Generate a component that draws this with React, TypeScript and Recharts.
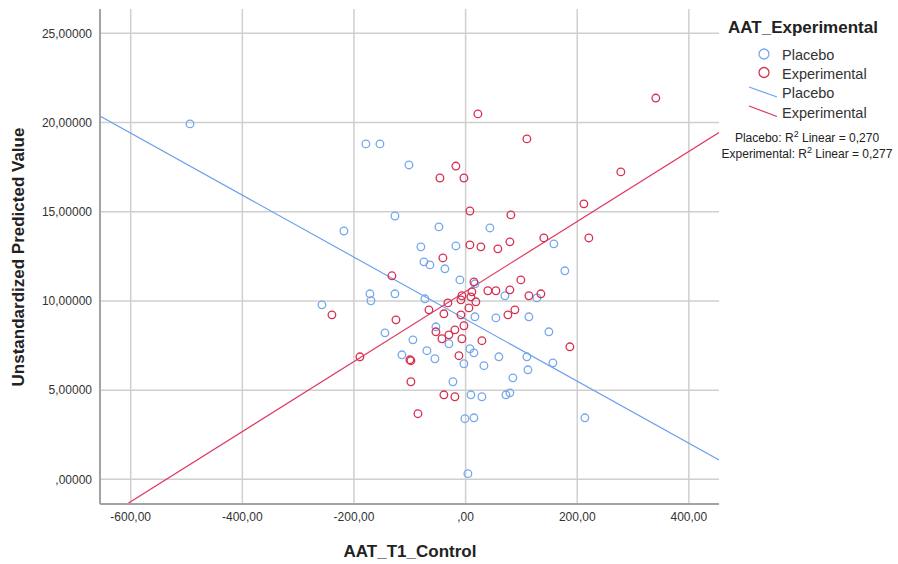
import React from "react";
import {
  ScatterChart,
  Scatter,
  XAxis,
  YAxis,
  ReferenceLine,
} from "recharts";

// values: [AAT_T1_Control, predicted value]
const placeboPoints: [number, number][] = [
  [-493.8, 19.92], [-178.6, 18.8], [-153.5, 18.8], [-101.5, 17.62],
  [-126.6, 14.76], [-218.0, 13.92], [-47.8, 14.15], [43.5, 14.09],
  [-80.1, 13.03], [-17.4, 13.08], [158.1, 13.2], [-74.7, 12.19],
  [-63.9, 12.02], [-37.1, 11.8], [-10.2, 11.18], [16.7, 10.96],
  [177.8, 11.69], [-171.4, 10.4], [-169.6, 10.01], [-126.6, 10.4],
  [-257.4, 9.78], [-72.9, 10.12], [70.4, 10.29], [127.7, 10.17],
  [16.7, 9.11], [54.3, 9.05], [113.4, 9.11], [-53.2, 8.55],
  [-144.5, 8.21], [-94.4, 7.82], [-29.9, 7.6], [149.2, 8.27],
  [-69.3, 7.21], [-114.1, 6.98], [-55.0, 6.76], [7.7, 7.32],
  [14.9, 7.09], [59.6, 6.87], [-3.0, 6.48], [32.8, 6.37],
  [109.8, 6.87], [111.6, 6.14], [156.4, 6.53], [84.7, 5.69],
  [-22.7, 5.47], [9.5, 4.74], [29.2, 4.63], [72.2, 4.74],
  [79.3, 4.85], [-1.3, 3.4], [14.9, 3.45], [213.7, 3.45],
  [4.1, 0.32],
];

const experimentalPoints: [number, number][] = [
  [340.8, 21.37], [22.0, 20.48], [109.8, 19.08], [278.1, 17.23],
  [-17.4, 17.56], [-46.0, 16.89], [-3.0, 16.89], [7.7, 15.04],
  [81.1, 14.82], [211.9, 15.44], [220.8, 13.53], [140.2, 13.53],
  [79.3, 13.31], [7.7, 13.14], [27.4, 13.03], [57.8, 12.92],
  [-40.7, 12.41], [-132.0, 11.41], [14.9, 11.07], [99.0, 11.18],
  [39.9, 10.57], [54.3, 10.57], [79.3, 10.62], [134.9, 10.4],
  [113.4, 10.29], [11.3, 10.51], [-6.6, 10.29], [9.5, 10.23],
  [-8.4, 10.06], [18.4, 9.95], [-31.7, 9.89], [-65.7, 9.5],
  [5.9, 9.61], [88.3, 9.5], [75.8, 9.22], [-239.5, 9.22],
  [-38.9, 9.28], [-8.4, 9.22], [-124.8, 8.94], [-3.0, 8.61],
  [-19.2, 8.38], [-53.2, 8.27], [-29.9, 8.1], [-42.4, 7.88],
  [-6.6, 7.88], [29.2, 7.77], [-189.3, 6.87], [-98.0, 6.65],
  [-99.8, 6.7], [-12.0, 6.93], [186.8, 7.43], [-98.0, 5.47],
  [-38.9, 4.74], [-19.2, 4.63], [-85.4, 3.68],
];

// linear fit lines, end points at the edges of the x range
const placeboFit = [{ x: -655, y: 20.36 }, { x: 454, y: 1.09 }];
const experimentalFit = [{ x: -655, y: -2.33 }, { x: 454, y: 19.44 }];

const xTicks = [-600, -400, -200, 0, 200, 400];
const yTicks = [0, 5, 10, 15, 20, 25];

const rSquared = [
  { label: "Placebo", value: "0,270" },
  { label: "Experimental", value: "0,277" },
];

const BLUE = "#76a7ee";
const RED = "#d6304f";
const GRID = "#cfcfcf";
const FONT = "'Liberation Sans', Arial, sans-serif";

const toXY = (pts: [number, number][]) => pts.map(([x, y]) => ({ x, y }));

const fmtX = (v: number) => (v === 0 ? ",00" : v.toFixed(2).replace(".", ","));
const fmtY = (v: number) => (v === 0 ? ",00000" : v.toFixed(5).replace(".", ","));

const ring = (color: string) => (props: any) => (
  <circle cx={props.cx} cy={props.cy} r={3.8} fill="none" stroke={color} strokeWidth={1.3} />
);

export default function App() {
  return (
    <div style={{ position: "absolute", left: 0, top: 0, width: 898, height: 564, background: "#fff" }}>
      <ScatterChart
        width={898}
        height={564}
        margin={{ top: 9, right: 179, bottom: 30, left: 8 }}
      >
        <XAxis
          type="number"
          dataKey="x"
          domain={[-655, 454]}
          ticks={xTicks}
          allowDataOverflow
          tickFormatter={fmtX}
          tickLine={false}
          axisLine={{ stroke: "#a3a3a3", strokeWidth: 2 }}
          tick={{ fill: "#333", fontSize: 12, fontFamily: FONT }}
          height={30}
        />
        <YAxis
          type="number"
          dataKey="y"
          domain={[-1.38, 26.36]}
          ticks={yTicks}
          allowDataOverflow
          tickFormatter={fmtY}
          tickLine={false}
          axisLine={{ stroke: "#a3a3a3", strokeWidth: 2 }}
          tick={{ fill: "#333", fontSize: 12, fontFamily: FONT }}
          width={92}
        />
        {/* grid only at the ticks, no frame on top/right */}
        {xTicks.map((t) => (
          <ReferenceLine key={"gx" + t} x={t} stroke={GRID} strokeWidth={1.5} />
        ))}
        {yTicks.map((t) => (
          <ReferenceLine key={"gy" + t} y={t} stroke={GRID} strokeWidth={1.5} />
        ))}
        <Scatter name="Placebo" data={toXY(placeboPoints)} shape={ring(BLUE)} isAnimationActive={false} />
        <Scatter name="Experimental" data={toXY(experimentalPoints)} shape={ring(RED)} isAnimationActive={false} />
        <ReferenceLine segment={placeboFit} ifOverflow="hidden" stroke="#6ea2ee" strokeWidth={1.2} />
        <ReferenceLine segment={experimentalFit} ifOverflow="hidden" stroke="#e0365c" strokeWidth={1.2} />
      </ScatterChart>

      <svg
        width={898}
        height={564}
        style={{ position: "absolute", left: 0, top: 0, pointerEvents: "none" }}
        fontFamily={FONT}
      >
        <text
          x={24}
          y={257}
          transform="rotate(-90 24 257)"
          textAnchor="middle"
          fontSize={17}
          fontWeight="bold"
          fill="#222"
        >
          Unstandardized Predicted Value
        </text>
        <text x={410} y={557} textAnchor="middle" fontSize={17} fontWeight="bold" fill="#222">
          AAT_T1_Control
        </text>

        <text x={728} y={33} fontSize={17} fontWeight="bold" fill="#222">
          AAT_Experimental
        </text>
        <circle cx={764} cy={54} r={5} fill="none" stroke={BLUE} strokeWidth={1.3} />
        <text x={782} y={60} fontSize={14.5} fill="#333">Placebo</text>
        <circle cx={764} cy={72.5} r={5} fill="none" stroke={RED} strokeWidth={1.3} />
        <text x={782} y={79} fontSize={14.5} fill="#333">Experimental</text>
        <line x1={749} y1={87} x2={777} y2={97} stroke="#6ea2ee" strokeWidth={1.3} />
        <text x={782} y={98} fontSize={14.5} fill="#333">Placebo</text>
        <line x1={749} y1={106} x2={777} y2={116.5} stroke="#e0365c" strokeWidth={1.3} />
        <text x={782} y={118} fontSize={14.5} fill="#333">Experimental</text>

        {rSquared.map((r, i) => (
          <text key={r.label} x={807} y={141.5 + i * 16} textAnchor="middle" fontSize={12} fill="#222">
            {r.label}: R
            <tspan fontSize={9} dy={-5}>2</tspan>
            <tspan dy={5}> Linear = {r.value}</tspan>
          </text>
        ))}
      </svg>
    </div>
  );
}
